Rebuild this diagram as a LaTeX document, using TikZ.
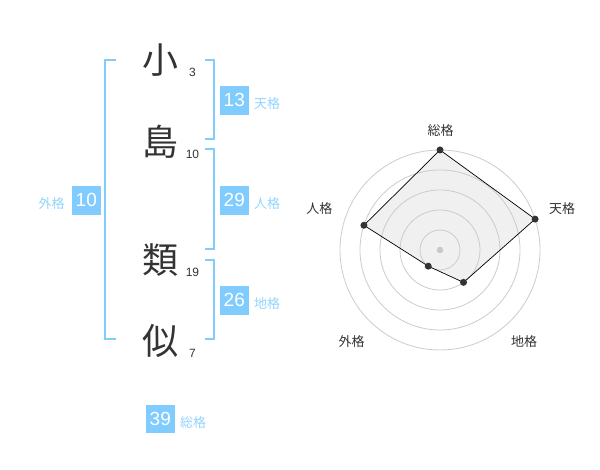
\documentclass[tikz,border=0pt]{standalone}
\usepackage{fontspec}
\setmainfont{Liberation Sans}
\newfontfamily\cjk{Noto Sans CJK JP}
\definecolor{kaku}{HTML}{80CCFF}
\definecolor{ink}{HTML}{333333}
\tikzset{
  kanji/.style={font=\cjk\fontsize{36}{36}\selectfont, text=ink, inner sep=0},
  strokes/.style={font=\fontsize{12}{12}\selectfont, text=ink, inner sep=0},
  numbox/.style={fill=kaku, text=white, minimum size=28.7, inner sep=0,
    font=\fontsize{19}{19}\selectfont},
  kakulabel/.style={font=\cjk\fontsize{13}{13}\selectfont, text=kaku!85, inner sep=0},
  bracket/.style={draw=kaku, line width=2},
  ring/.style={draw=black!20, line width=0.8},
  axislabel/.style={font=\cjk\fontsize{13}{13}\selectfont, text=ink, inner sep=0},
  dot/.style={circle, fill=ink, inner sep=0, minimum size=7},
}
\begin{document}
\begin{tikzpicture}[x=1pt, y=-1pt]
        \useasboundingbox[fill=white] (0,0) rectangle (600,470);
        %% name characters and stroke counts
        \foreach \n/\c/\y/\s in {ko/小/60/3, shima/島/142/10, rui/類/260/19, ji/似/341/7} {
            \node[kanji] (\n) at (160,\y) {\c};
            \node[strokes] (\n s) at (192.5,\y+12.5) {\s};
        }
        %% brackets
        \draw[bracket] (116,60) -- (105,60) -- (105,339) -- (116,339);
        \draw[bracket] (205,60) -- (214,60) -- (214,139) -- (205,139);
        \draw[bracket] (205,149.5) -- (214,149.5) -- (214,249.5) -- (205,249.5);
        \draw[bracket] (205,260) -- (214,260) -- (214,339) -- (205,339);
        %% values
        \foreach \n/\x/\y/\v/\t in {ten/234.3/100.3/13/天格, jin/234.3/200.3/29/人格,
                                    chi/234.3/300.3/26/地格} {
            \node[numbox] (\n) at (\x,\y) {\v};
            \node[kakulabel, anchor=west] (\n l) at ([xshift=5]\n.east |- 0,\y+3.5) {\t};
        }
        \node[numbox] (gai) at (86.3,200.3) {10};
        \node[kakulabel, anchor=east] (gai l) at ([xshift=-7]gai.west |- 0,203.8) {外格};
        \node[numbox] (sou) at (160.3,419) {39};
        \node[kakulabel, anchor=west] (sou l) at ([xshift=5]sou.east |- 0,422.7) {総格};
        %% radar
        \coordinate (c) at (440,250);
        \foreach \n/\a/\v in {sou/-90/5, ten/-18/5, chi/54/2, gai/126/1, jin/198/4}
            \path (c) ++(\a:{\v*20}) coordinate (p\n);
        \fill[black!6] (psou) -- (pten) -- (pchi) -- (pgai) -- (pjin) -- cycle;
        \foreach \r in {20,40,60,80,100}
            \draw[ring] (c) circle (\r);
        \fill[black!22] (c) circle (3.2);
        \draw[line width=0.7] (psou) -- (pten) -- (pchi) -- (pgai) -- (pjin) -- cycle;
        \foreach \n in {sou,ten,chi,gai,jin}
            \node[dot] at (p\n) {};
        %% axis labels
        \node[axislabel] (asou) at (440.7,130.7) {総格};
        \node[axislabel] (aten) at (562,208.7) {天格};
        \node[axislabel] (ajin) at (319.3,208.7) {人格};
        \node[axislabel] (agai) at (351.7,341.7) {外格};
        \node[axislabel] (achi) at (524,341.7) {地格};
\end{tikzpicture}
\end{document}
